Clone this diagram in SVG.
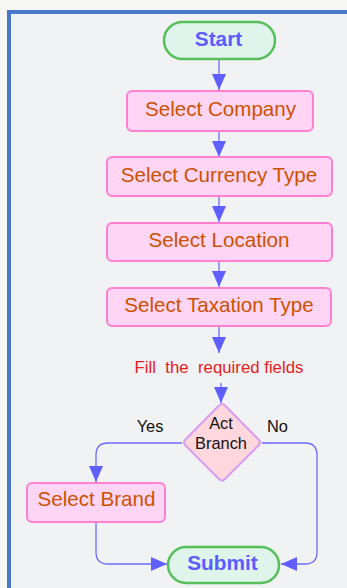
<svg xmlns="http://www.w3.org/2000/svg" width="347" height="588" viewBox="0 0 347 588">
<defs>
<marker id="ah" markerWidth="17" markerHeight="14" refX="16" refY="7" orient="auto" markerUnits="userSpaceOnUse">
<path d="M0,0 L16,7 L0,14 Z" fill="#5f5fff"/>
</marker>
<style>
.proc{fill:#ffd5f5;stroke:#ff7fd0;stroke-width:2}
.ptxt{font-family:"Liberation Sans",Arial,sans-serif;font-size:20.6px;fill:#cc5200;text-anchor:middle}
.term{fill:#dff5ec;stroke:#55c05a;stroke-width:2.5}
.ttxt{font-family:"Liberation Sans",Arial,sans-serif;font-size:20.8px;font-weight:bold;fill:#5c5cff;text-anchor:middle}
.conn{fill:none;stroke:#6b6bff;stroke-width:1.3;marker-end:url(#ah)}
.lbl{font-family:"Liberation Sans",Arial,sans-serif;font-size:16.4px;fill:#111;text-anchor:middle}
</style>
</defs>
<rect width="347" height="588" fill="#f7f7f4"/>
<rect x="9" y="12" width="360" height="600" fill="#f1f2f4" stroke="#4a78c8" stroke-width="4"/>

<g id="connectors">
<path class="conn" d="M219,59 V90"/>
<path class="conn" d="M219,131 V157"/>
<path class="conn" d="M219,196 V222"/>
<path class="conn" d="M219,261 V287"/>
<path class="conn" d="M219,326 V353"/>
<path class="conn" d="M221,383 V403"/>
<path class="conn" d="M182,443 H108 Q96,443 96,455 V482"/>
<path class="conn" d="M96,522 V552 Q96,564 108,564 H167"/>
<path class="conn" d="M262,443 H305 Q317,443 317,455 V552 Q317,564 305,564 H281"/>
</g>

<g id="start">
<rect class="term" x="164" y="22" width="111" height="37" rx="18.5"/>
<text class="ttxt" x="218.5" y="45.5">Start</text>
</g>
<g id="select-company">
<rect class="proc" x="127" y="91" width="186" height="40" rx="5"/>
<text class="ptxt" x="220.5" y="115.5">Select Company</text>
</g>
<g id="select-currency-type">
<rect class="proc" x="107" y="157" width="225" height="39" rx="5"/>
<text class="ptxt" x="219" y="182">Select Currency Type</text>
</g>
<g id="select-location">
<rect class="proc" x="107" y="223" width="225" height="38" rx="5"/>
<text class="ptxt" x="219" y="246.5">Select Location</text>
</g>
<g id="select-taxation-type">
<rect class="proc" x="107" y="288" width="224" height="38" rx="5"/>
<text class="ptxt" x="219" y="312">Select Taxation Type</text>
</g>
<g id="fill-fields">
<text x="219" y="372.5" font-family="Liberation Sans,Arial,sans-serif" font-size="16.8" fill="#e52020" text-anchor="middle" xml:space="preserve">Fill  the  required fields</text>
</g>
<g id="act-branch">
<path d="M219,405.5 Q222,402.5 225,405.5 L258.5,439.5 Q261.5,442.5 258.5,445.5 L225,479 Q222,482 219,479 L185.5,445.5 Q182.5,442.5 185.5,439.5 Z" fill="#ffd7dc" stroke="#d89cf0" stroke-width="2"/>
<text class="lbl" x="221" y="429">Act</text>
<text class="lbl" x="221" y="449">Branch</text>
</g>
<g id="labels">
<text class="lbl" x="150" y="432">Yes</text>
<text class="lbl" x="277.5" y="432">No</text>
</g>
<g id="select-brand">
<rect class="proc" x="27" y="483" width="138" height="39" rx="5"/>
<text class="ptxt" x="96.5" y="506">Select Brand</text>
</g>
<g id="submit">
<rect class="term" x="168" y="547" width="111" height="36" rx="18"/>
<text class="ttxt" x="222.5" y="569.5">Submit</text>
</g>
</svg>
